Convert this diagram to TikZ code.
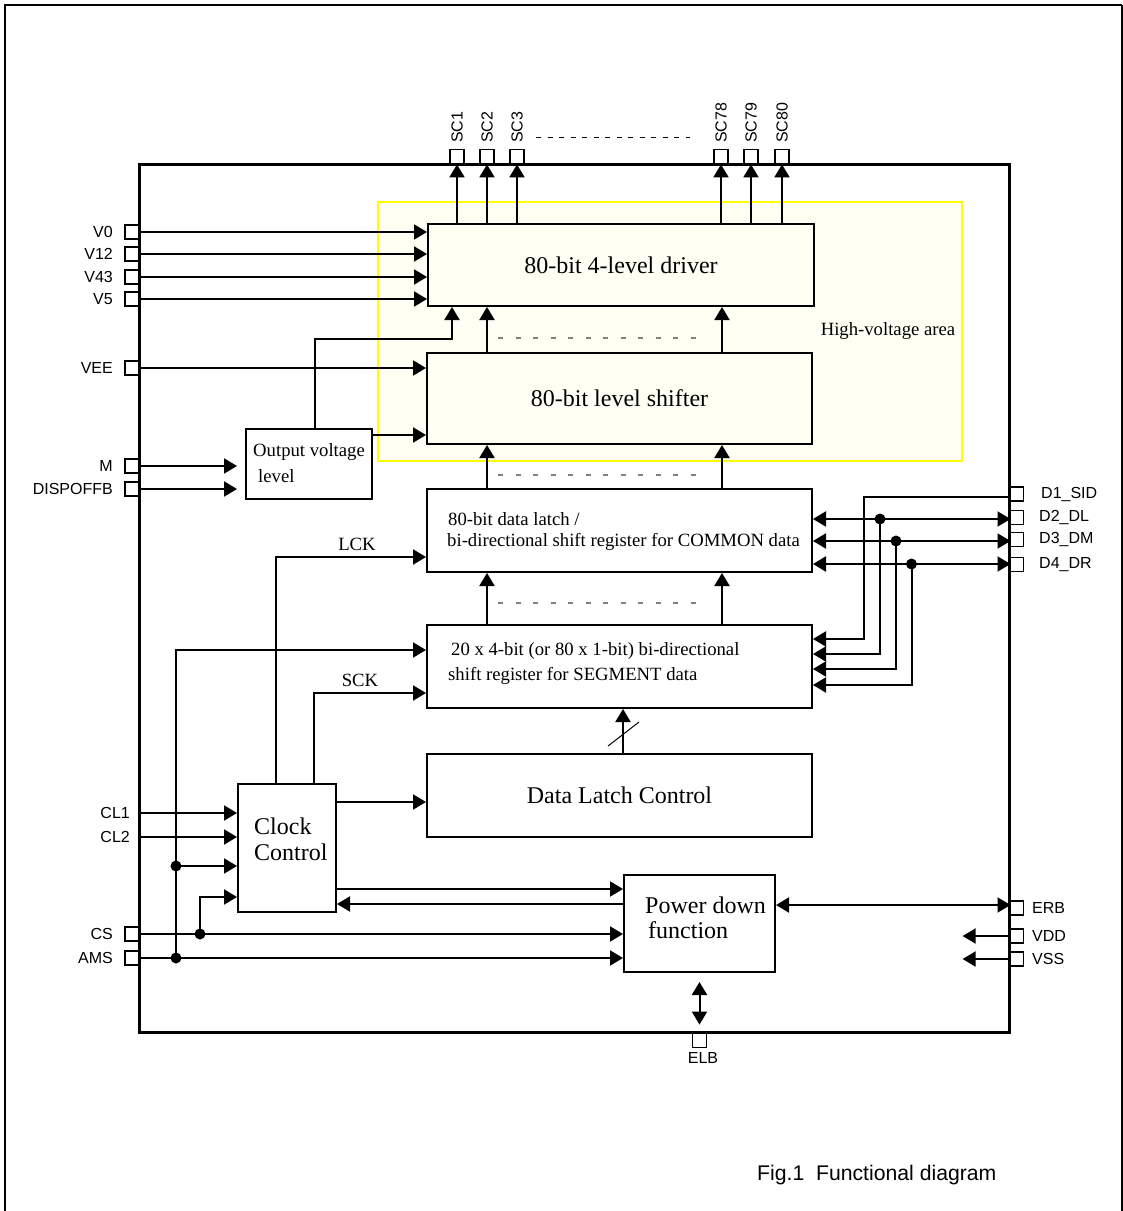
\documentclass[tikz,border=0pt]{standalone}
\usepackage{fontspec}
\setmainfont{Liberation Serif}
\newfontfamily\arial{Liberation Sans}
\usetikzlibrary{arrows.meta}
\definecolor{cream}{HTML}{FFFFF4}
\definecolor{hvyellow}{HTML}{FFFF00}
\begin{document}
\begin{tikzpicture}[x=1pt,y=-1pt,
  box/.style={draw, line width=2pt, inner sep=0pt, rectangle},
  pinsq/.style={draw, line width=1.8pt, minimum size=14pt, inner sep=0pt},
  pl/.style={font=\arial\fontsize{16}{18}\selectfont, inner sep=0pt},
  big/.style={font=\fontsize{24}{28}\selectfont},
  med/.style={font=\fontsize{18.7}{22}\selectfont, inner sep=0pt},
  wire/.style={line width=2pt},
  arr/.style={wire, -{Triangle[length=13pt,width=15pt]}},
  darr/.style={wire, {Triangle[length=13pt,width=15pt]}-{Triangle[length=13pt,width=15pt]}},
  jdot/.style={circle, fill, inner sep=0pt, minimum size=11pt},
  dashg/.style={gray, line width=1.2pt, dash pattern=on 5pt off 12.5pt},
]
\useasboundingbox (0,0) rectangle (1123,1211);
% page frame
\draw[line width=2.5pt] (5,1211) -- (5,5) -- (1122,5);
\draw[line width=1.2pt] (1122,5) -- (1122,1211);

% chip outline
\node[draw, line width=3pt, minimum width=870pt, minimum height=868pt, inner sep=0pt] (chip) at (574,598) {};

% high-voltage area
\node[draw=hvyellow, fill=cream, line width=1.5pt, minimum width=584pt, minimum height=259pt, inner sep=0pt] (hv) at (670,331.5) {};
\node[med] at (888,331) {High-voltage area};

% blocks
\node[box, fill=cream, minimum width=386pt, minimum height=82pt, big] (drv) at (621,265) {80-bit 4-level driver};
\node[box, fill=cream, minimum width=385pt, minimum height=91pt, big] (lsh) at (619.5,398.5) {80-bit level shifter};
\node[box, minimum width=126pt, minimum height=70pt] (ovl) at (309,464) {};
\node[med, anchor=west] at (253,452) {Output voltage};
\node[med, anchor=west] at (258,476) {level};
\node[box, minimum width=385pt, minimum height=83pt] (lat) at (619.5,530.5) {};
\node[med, anchor=west] at (448,519) {80-bit data latch /};
\node[med, anchor=west] at (447,542) {bi-directional shift register for COMMON data};
\node[box, minimum width=385pt, minimum height=83pt] (seg) at (619.5,666.5) {};
\node[med, anchor=west] at (451,651) {20 x 4-bit (or 80 x 1-bit) bi-directional};
\node[med, anchor=west] at (448,676) {shift register for SEGMENT data};
\node[box, minimum width=385pt, minimum height=83pt, big] (dlc) at (619.5,795.5) {Data Latch Control};
\node[box, minimum width=98pt, minimum height=128pt] (clk) at (287,848) {};
\node[big, anchor=west, inner sep=0pt] at (254,826) {Clock};
\node[big, anchor=west, inner sep=0pt] at (254,852) {Control};
\node[box, minimum width=151pt, minimum height=97pt] (pd) at (699.5,923.5) {};
\node[big, anchor=west, inner sep=0pt] at (645,905) {Power down};
\node[big, anchor=west, inner sep=0pt] at (648,930) {function};

% top pins
\foreach \n/\x in {SC1/457, SC2/487, SC3/517, SC78/721, SC79/751, SC80/782} {
  \node[pinsq] (\n) at (\x,156.5) {};
  \node[pl, rotate=90, anchor=west] at (\x,143) {\n};
  \draw[arr] (drv.north -| \n) -- (\n.south);
}
\draw[line width=1.5pt, dash pattern=on 5pt off 6.5pt] (536,137.5) -- (690,137.5);

% left pins
\foreach \n/\y in {V0/232, V12/254, V43/277, V5/299, VEE/368, M/466, DISPOFFB/489, CS/934, AMS/958} {
  \node[pinsq] (\n) at (132,\y) {};
  \node[pl, anchor=east] at (113,\y) {\n};
}
\coordinate (CL1) at (139,813);
\coordinate (CL2) at (139,837);
\node[pl, anchor=east] at (130,813) {CL1};
\node[pl, anchor=east] at (130,837) {CL2};

% right pins
\foreach \n/\y/\t/\lx in {D1/494/D1\_SID/1041, D2/517.5/D2\_DL/1039, D3/539.5/D3\_DM/1039, D4/564.5/D4\_DR/1039, ERB/908/ERB/1032, VDD/936/VDD/1032, VSS/959/VSS/1032} {
  \node[pinsq] (\n) at (1016.5,\y) {};
  \node[pl, anchor=west] at (\lx,\y) {\t};
}
% bottom pin
\node[pinsq] (ELB) at (699.5,1040.5) {};
\node[pl] at (703,1058) {ELB};

% supply inputs
\foreach \n in {V0,V12,V43,V5} { \draw[arr] (\n.east) -- (\n.east -| drv.west); }
\draw[arr] (VEE.east) -- (VEE.east -| lsh.west);
\draw[arr] (M.east) -- ([xshift=-8pt]ovl.west |- M.east);
\draw[arr] (DISPOFFB.east) -- ([xshift=-8pt]ovl.west |- DISPOFFB.east);
\draw[arr] ([xshift=6pt]ovl.north) |- (452,339) -- (drv.south -| 452,0);
\draw[arr] ([yshift=29pt]ovl.east) -- ([yshift=29pt]ovl.east -| lsh.west);

% vertical data paths
\foreach \x in {487,722} {
  \draw[arr] (lsh.north -| \x,0) -- (drv.south -| \x,0);
  \draw[arr] (lat.north -| \x,0) -- (lsh.south -| \x,0);
  \draw[arr] (seg.north -| \x,0) -- (lat.south -| \x,0);
}
\draw[dashg] (498,338) -- (707,338);
\draw[dashg] (498,475) -- (707,475);
\draw[dashg] (498,603) -- (707,603);
\draw[arr] (dlc.north -| 623,0) -- (seg.south -| 623,0);
\draw[line width=1pt] (608,746) -- (639,722);

% clock control
\draw[arr] ([xshift=-11pt]clk.north) |- (lat.west |- 0,557);
\node[med] at (357,544) {LCK};
\draw[arr] ([xshift=27pt]clk.north) |- (seg.west |- 0,693);
\node[med] at (360,680) {SCK};
\draw[arr] (CL1) -- (clk.west |- CL1);
\draw[arr] (CL2) -- (clk.west |- CL2);
\node[jdot] (amsdot) at (176,958) {};
\node[jdot] (clkdot) at (176,866) {};
\node[jdot] (csdot) at (200,934) {};
\draw[wire] (amsdot.center) -- (clkdot.center);
\draw[arr] (clkdot.center) |- (seg.west |- 0,650);
\draw[arr] (clkdot.center) -- (clk.west |- clkdot);
\draw[arr] (csdot.center) |- (clk.west |- 0,897);
\draw[arr] (CS.east) -- (pd.west |- CS.east);
\draw[arr] (AMS.east) -- (pd.west |- AMS.east);
\draw[arr] (clk.east |- 0,802) -- (dlc.west |- 0,802);
\draw[arr] (clk.east |- 0,889) -- (pd.west |- 0,889);
\draw[arr] (pd.west |- 0,904) -- (clk.east |- 0,904);

% power down
\draw[darr] (pd.east |- 0,905) -- (chip.east |- 0,905);
\draw[arr] (VDD.west) -- ++(-46,0);
\draw[arr] (VSS.west) -- ++(-46,0);
\draw[darr] ([yshift=-9pt]pd.south) -- ([yshift=8pt]ELB.north);

% D pins
\draw[arr] (chip.east |- 0,497) -| (864,639) -- (seg.east |- 0,639);
\node[jdot] (d2dot) at (880,519) {};
\node[jdot] (d3dot) at (896,541) {};
\node[jdot] (d4dot) at (911.5,564) {};
\draw[darr] (lat.east |- d2dot) -- (chip.east |- d2dot);
\draw[darr] (lat.east |- d3dot) -- (chip.east |- d3dot);
\draw[darr] (lat.east |- d4dot) -- (chip.east |- d4dot);
\draw[arr] (d2dot.center) |- (seg.east |- 0,654);
\draw[arr] (d3dot.center) |- (seg.east |- 0,669);
\draw[arr] (d4dot.center) |- (seg.east |- 0,685);

% caption
\node[font=\arial\fontsize{21.2}{25}\selectfont, anchor=west, inner sep=0pt] at (757,1175) {Fig.1\ \ Functional diagram};
\end{tikzpicture}
\end{document}
